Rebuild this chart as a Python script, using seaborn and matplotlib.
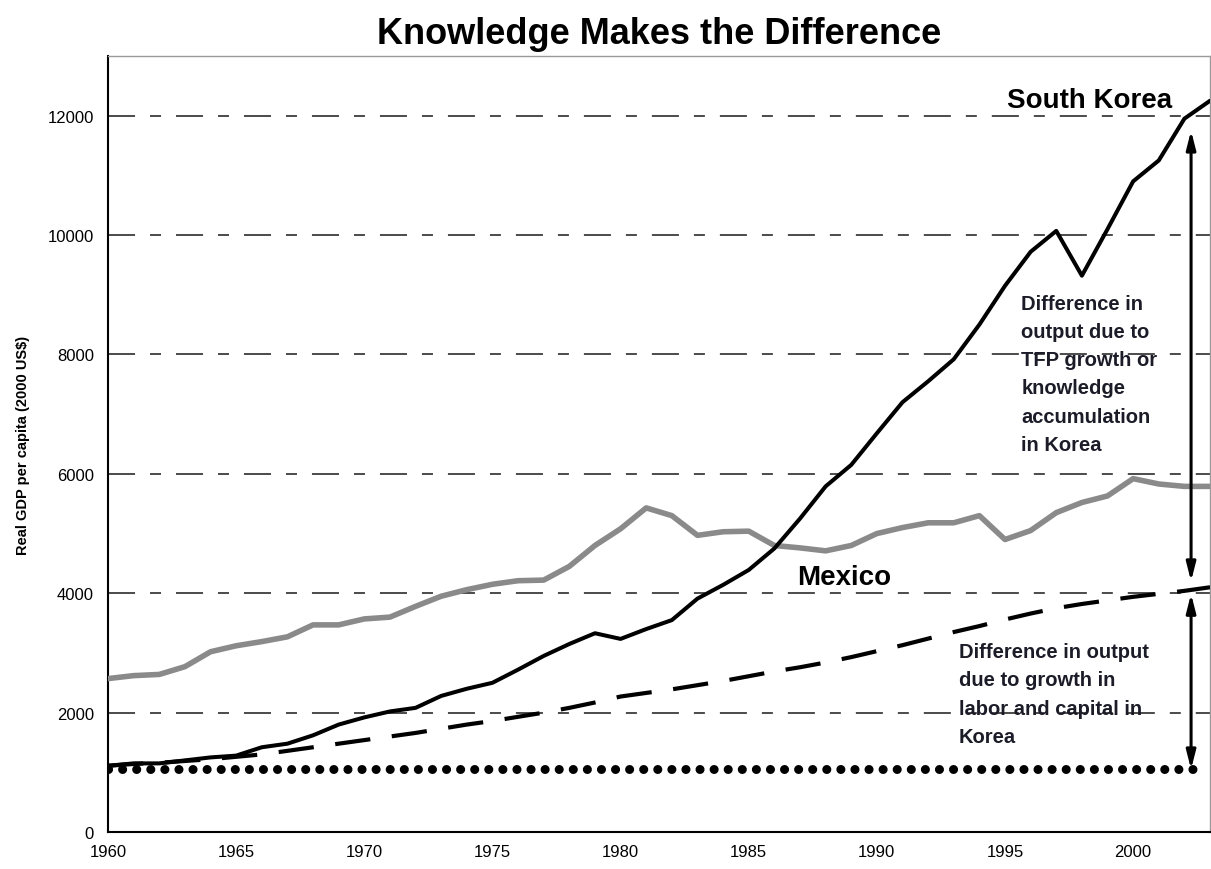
import matplotlib
matplotlib.use('Agg')
import matplotlib.pyplot as plt
import seaborn as sns
import pandas as pd

# Real GDP per capita (2000 US$)
years = list(range(1960, 2004))
korea = [1110, 1150, 1150, 1200, 1250, 1280, 1420, 1480, 1620, 1800,
         1920, 2020, 2080, 2280, 2400, 2500, 2720, 2950, 3150, 3330,
         3235, 3400, 3550, 3910, 4140, 4390, 4750, 5250, 5790, 6150,
         6680, 7200, 7550, 7920, 8500, 9150, 9720, 10070, 9320, 10100,
         10900, 11250, 11950, 12250]
mexico = [2570, 2620, 2640, 2770, 3020, 3120, 3190, 3270, 3470, 3470,
          3570, 3600, 3780, 3950, 4060, 4150, 4210, 4220, 4450, 4800,
          5080, 5430, 5300, 4970, 5030, 5040, 4800, 4760, 4710, 4800,
          5000, 5100, 5180, 5180, 5300, 4900, 5050, 5350, 5520, 5630,
          5920, 5830, 5790, 5790]
# Korea output with factor accumulation only (no TFP growth)
factors = [1110, 1140, 1160, 1190, 1220, 1260, 1300, 1360, 1420, 1480,
           1540, 1600, 1660, 1730, 1800, 1860, 1930, 2000, 2080, 2170,
           2270, 2330, 2390, 2460, 2530, 2610, 2690, 2760, 2840, 2930,
           3030, 3130, 3240, 3350, 3450, 3560, 3660, 3750, 3820, 3880,
           3940, 3990, 4040, 4100]
baseline = 1050          # Korea 1960 level held constant
arrow_year = 2002.26
tfp_arrow = (4200, 11750)
factor_arrow = (1050, 3990)

df = pd.DataFrame({'year': years, 'korea': korea, 'mexico': mexico, 'factors': factors})

sns.set_style('white')
plt.rcParams['font.family'] = ['Liberation Sans', 'DejaVu Sans']
plt.rcParams['text.color'] = 'black'
plt.rcParams['axes.labelcolor'] = 'black'

fig, ax = plt.subplots(figsize=(12.11, 8.7), dpi=100)
fig.subplots_adjust(left=0.0892, right=0.9992, bottom=0.0425, top=0.9345)

ax.grid(axis='y', color='#1a1a1a', linewidth=1.1, linestyle=(0, (17.7, 9.8, 7.2, 9.8)))
ax.grid(axis='x', visible=False)
ax.set_axisbelow(True)

# constant baseline (dotted)
ax.plot([years[0], arrow_year + 0.1], [baseline, baseline], color='black', lw=6.5,
        linestyle=(0, (0.01, 1.55)), dash_capstyle='round', zorder=2)

sns.lineplot(data=df, x='year', y='factors', ax=ax, color='black', lw=3,
             linestyle=(0, (8.5, 5.2)), zorder=3)
sns.lineplot(data=df, x='year', y='mexico', ax=ax, color='#8a8a8a', lw=4, zorder=4)
sns.lineplot(data=df, x='year', y='korea', ax=ax, color='black', lw=2.9, zorder=5)

for lo, hi in [tfp_arrow, factor_arrow]:
    ax.annotate('', xy=(arrow_year, hi), xytext=(arrow_year, lo),
                arrowprops=dict(arrowstyle='<|-|>,head_length=1.1,head_width=0.28',
                                lw=2.2, color='black', shrinkA=0, shrinkB=0),
                zorder=6)

ax.set_xlim(1960, 2003)
ax.set_ylim(0, 13000)
ax.set_xticks(range(1960, 2001, 5))
ax.set_yticks(range(0, 12001, 2000))
ax.tick_params(axis='both', labelsize=12, colors='black', direction='out')
ax.tick_params(axis='y', length=3.6, width=1.5, pad=6.5)
ax.tick_params(axis='x', length=4.5, width=1.5, pad=4)
ax.set_xlabel('')
ax.set_ylabel('Real GDP per capita (2000 US$)', fontsize=10.5, fontweight='bold', labelpad=13)

for side in ['left', 'bottom']:
    ax.spines[side].set_color('black')
    ax.spines[side].set_linewidth(1.5)
for side in ['top', 'right']:
    ax.spines[side].set_color('#9a9a9a')
    ax.spines[side].set_linewidth(1.0)

ax.set_title('Knowledge Makes the Difference', fontsize=26, fontweight='bold', pad=9)

ax.text(2001.52, 12150, 'South Korea', fontsize=20, fontweight='bold', ha='right', va='baseline')
ax.text(1986.9, 4160, 'Mexico', fontsize=20, fontweight='bold', ha='left', va='baseline')
ax.text(1995.63, 9020, 'Difference in\noutput due to\nTFP growth or\nknowledge\naccumulation\nin Korea',
        fontsize=14.5, fontweight='bold', color='#1c1c28', ha='left', va='top', linespacing=1.62)
ax.text(1993.2, 3180, 'Difference in output\ndue to growth in\nlabor and capital in\nKorea',
        fontsize=14.5, fontweight='bold', color='#1c1c28', ha='left', va='top', linespacing=1.62)

fig.savefig('out.png', dpi=100)
